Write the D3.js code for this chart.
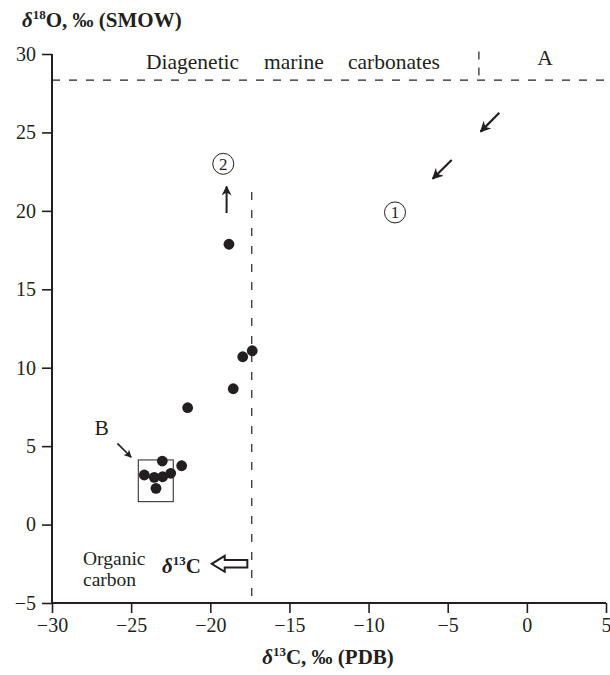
<!DOCTYPE html>
<html>
<head>
<meta charset="utf-8">
<script src="https://cdn.jsdelivr.net/npm/d3@7"></script>
<style>
  html, body { margin: 0; padding: 0; background: #fff; }
  svg { display: block; }
  svg text { font-family: "Liberation Serif", "Times New Roman", "DejaVu Serif", serif; }
</style>
</head>
<body>
<svg id="chart" width="610" height="675"></svg>
<script>
// Isotope measurements: δ13C (‰ PDB) and δ18O (‰ SMOW)
const d13C = [-18.82, -17.35, -17.95, -18.55, -21.43, -23.03, -21.81, -24.17, -23.54, -23.01, -22.50, -23.43];
const d18O = [17.87, 11.08, 10.70, 8.66, 7.45, 4.05, 3.75, 3.16, 3.01, 3.05, 3.27, 2.31];

const xTicks = [-30, -25, -20, -15, -10, -5, 0, 5];
const yTicks = [-5, 0, 5, 10, 15, 20, 25, 30];

// Reference boundaries
const marineO18 = 28.34;     // upper limit of diagenetic marine carbonates
const fieldA_C13 = -3.03;    // border of field A
const organicC13 = -17.38;   // organic carbon δ13C
const organicTopO18 = 21.2;
const boxB = { x0: -24.55, x1: -22.34, y0: 1.46, y1: 4.12 };

const FONT = "Liberation Serif, Times New Roman, DejaVu Serif, serif";
const ink = "#231f20";

const svg = d3.select("#chart");
const x = d3.scaleLinear().domain([-30, 5]).range([52, 606]);
const y = d3.scaleLinear().domain([-5, 30]).range([603, 54]);

const minus = d => d < 0 ? "\u2212" + Math.abs(d) : String(d);

// Axes
const gx = svg.append("g").attr("transform", `translate(0,${y(-5)})`)
  .call(d3.axisBottom(x).tickValues(xTicks).tickSize(10).tickPadding(5).tickFormat(minus));
const gy = svg.append("g").attr("transform", `translate(${x(-30)},0)`)
  .call(d3.axisLeft(y).tickValues(yTicks).tickSize(10).tickPadding(6).tickFormat(minus));
[gx, gy].forEach(g => {
  g.attr("font-family", FONT).attr("font-size", 20);
  g.select(".domain").attr("stroke", ink).attr("stroke-width", 2);
  g.selectAll(".tick line").attr("stroke", ink).attr("stroke-width", 1.6);
  g.selectAll(".tick text").attr("fill", ink);
});
gx.select(".domain").attr("d", `M${x(-30)},0H${x(5)}`);
gy.select(".domain").attr("d", `M0,${y(-5)}V${y(30)}`);

// Axis titles
function isoTitle(px, py, mass, rest, anchor) {
  const t = svg.append("text").attr("x", px).attr("y", py)
    .attr("text-anchor", anchor).attr("font-family", FONT)
    .attr("font-size", 21).attr("font-weight", "bold").attr("fill", ink);
  t.append("tspan").attr("font-style", "italic").text("δ");
  t.append("tspan").attr("font-size", 13).attr("dy", -8).text(mass);
  t.append("tspan").attr("dy", 8).text(rest);
  return t;
}
isoTitle(22, 27, "18", "O, ‰ (SMOW)", "start");
isoTitle(328, 664, "13", "C, ‰ (PDB)", "middle");

// Dashed boundaries
svg.append("line")
  .attr("x1", x(-30)).attr("x2", x(5))
  .attr("y1", y(marineO18)).attr("y2", y(marineO18))
  .attr("stroke", ink).attr("stroke-width", 1.2).attr("stroke-dasharray", "8,9");
svg.append("line")
  .attr("x1", x(fieldA_C13)).attr("x2", x(fieldA_C13))
  .attr("y1", y(30.16)).attr("y2", y(marineO18))
  .attr("stroke", ink).attr("stroke-width", 1.2).attr("stroke-dasharray", "8,8");
svg.append("line")
  .attr("x1", x(organicC13)).attr("x2", x(organicC13))
  .attr("y1", y(organicTopO18)).attr("y2", y(-5))
  .attr("stroke", ink).attr("stroke-width", 1.2).attr("stroke-dasharray", "8,10");

// Box around group B
svg.append("rect")
  .attr("x", x(boxB.x0)).attr("y", y(boxB.y1))
  .attr("width", x(boxB.x1) - x(boxB.x0)).attr("height", y(boxB.y0) - y(boxB.y1))
  .attr("fill", "none").attr("stroke", ink).attr("stroke-width", 1);

// Data points
svg.append("g").selectAll("circle")
  .data(d13C.map((c, i) => [c, d18O[i]]))
  .join("circle")
  .attr("cx", d => x(d[0])).attr("cy", d => y(d[1]))
  .attr("r", 5.4).attr("fill", ink);

// Arrow marker
svg.append("defs").append("marker")
  .attr("id", "head").attr("viewBox", "0 0 10 10")
  .attr("refX", 9).attr("refY", 5)
  .attr("markerWidth", 5).attr("markerHeight", 5)
  .attr("markerUnits", "strokeWidth")
  .attr("orient", "auto")
  .append("path").attr("d", "M0,0L10,5L0,10L3,5Z").attr("fill", ink);

function arrow(x1, y1, x2, y2, w) {
  svg.append("line")
    .attr("x1", x(x1)).attr("y1", y(y1)).attr("x2", x(x2)).attr("y2", y(y2))
    .attr("stroke", ink).attr("stroke-width", w).attr("marker-end", "url(#head)");
}
arrow(-1.74, 26.26, -2.92, 25.05, 2.2);
arrow(-4.75, 23.24, -5.95, 22.05, 2.2);
arrow(-18.97, 19.86, -18.97, 21.55, 2.0);
arrow(-25.87, 5.18, -25.0, 4.29, 1.6);

// Labels
function lab(px, py, t, size, anchor) {
  return svg.append("text")
    .attr("x", px).attr("y", py).attr("font-family", FONT)
    .attr("font-size", size).attr("fill", ink)
    .attr("text-anchor", anchor || "start").text(t);
}
lab(146, 69, "Diagenetic", 21.5);
lab(264, 69, "marine", 21.5);
lab(348, 69, "carbonates", 21.5);
lab(x(1.15), 65, "A", 21.5, "middle");
lab(x(-26.86), 435, "B", 21.5, "middle");
lab(83, 565, "Organic", 19.5);
lab(83, 586, "carbon", 19.5);

// Circled pathway numbers
function circled(cx, cy, n) {
  svg.append("circle").attr("cx", cx).attr("cy", cy).attr("r", 10.5)
    .attr("fill", "none").attr("stroke", ink).attr("stroke-width", 1);
  lab(cx, cy + 6, n, 17, "middle");
}
circled(x(-19.18), y(23.0), "2");
circled(x(-8.33), y(19.9), "1");

// δ13C with hollow arrow toward organic carbon
const cLab = svg.append("text").attr("x", 162).attr("y", 573)
  .attr("font-family", FONT)
  .attr("font-size", 21).attr("font-weight", "bold").attr("fill", ink);
cLab.append("tspan").attr("font-style", "italic").text("δ");
cLab.append("tspan").attr("font-size", 13).attr("dy", -8).text("13");
cLab.append("tspan").attr("dy", 8).text("C");

const tipX = x(-19.91), tailX = x(-17.66), cy = y(-2.5);
svg.append("path")
  .attr("d", `M${tipX},${cy} L${tipX + 13},${cy - 8} L${tipX + 13},${cy - 3.8} L${tailX},${cy - 3.8} L${tailX},${cy + 3.8} L${tipX + 13},${cy + 3.8} L${tipX + 13},${cy + 8} Z`)
  .attr("fill", "#fff").attr("stroke", ink).attr("stroke-width", 2);
</script>
</body>
</html>
